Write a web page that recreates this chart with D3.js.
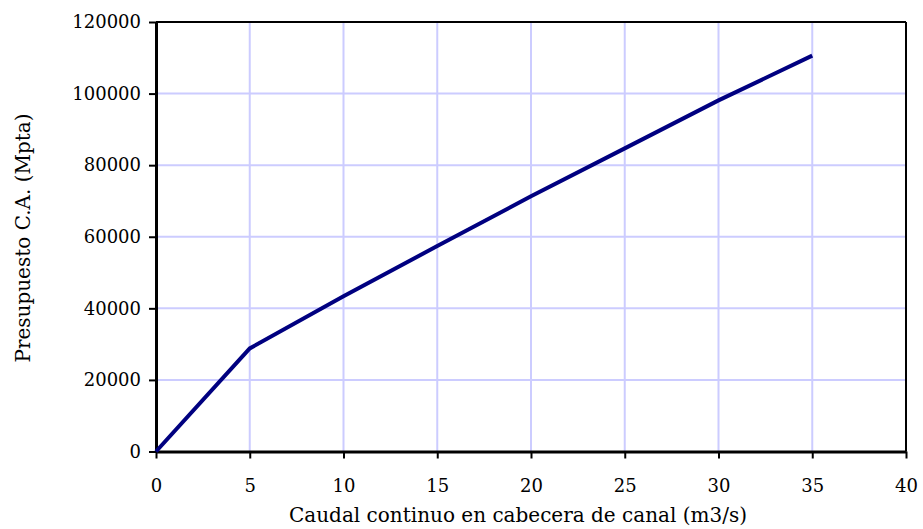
<!DOCTYPE html>
<html><head><meta charset="utf-8">
<script src="https://cdn.jsdelivr.net/npm/d3@7"></script>
<style>body{margin:0;background:#fff}svg{display:block}</style>
</head><body>
<svg id="c" width="923" height="529"></svg>
<script>
const caudal = [0, 5, 10, 15, 20, 25, 30, 35];
const presupuesto = [0, 28800, 43400, 57400, 71300, 84700, 98100, 110600];
const xTicks = [0, 5, 10, 15, 20, 25, 30, 35, 40];
const yTicks = [0, 20000, 40000, 60000, 80000, 100000, 120000];
const xTitle = "Caudal continuo en cabecera de canal (m3/s)";
const yTitle = "Presupuesto C.A. (Mpta)";

const svg = d3.select("#c");
const L = 156, R = 906, T = 22, B = 451.5;
const x = d3.scaleLinear().domain([0, 40]).range([L, R]);
const y = d3.scaleLinear().domain([0, 120000]).range([B, T]);
const font = "DejaVu Serif";

// grid
svg.append("g").selectAll("line").data(xTicks.slice(1, -1)).join("line")
  .attr("x1", d => x(d)).attr("x2", d => x(d)).attr("y1", T).attr("y2", B)
  .attr("stroke", "#ccccff").attr("stroke-width", 2);
svg.append("g").selectAll("line").data(yTicks.slice(1, -1)).join("line")
  .attr("y1", d => y(d)).attr("y2", d => y(d)).attr("x1", L).attr("x2", R)
  .attr("stroke", "#ccccff").attr("stroke-width", 2);

// frame top/right
svg.append("line").attr("x1", L).attr("x2", R).attr("y1", T).attr("y2", T).attr("stroke", "#000").attr("stroke-width", 2);
svg.append("line").attr("x1", R).attr("x2", R).attr("y1", T).attr("y2", B).attr("stroke", "#000").attr("stroke-width", 2);

// axes
const xAxis = svg.append("g").attr("transform", `translate(0,${B})`)
  .call(d3.axisBottom(x).tickValues(xTicks).tickSize(7).tickPadding(21).tickSizeOuter(0));
const yAxis = svg.append("g").attr("transform", `translate(${L},0)`)
  .call(d3.axisLeft(y).tickValues(yTicks).tickSize(7).tickPadding(8).tickFormat(d3.format("d")).tickSizeOuter(0));
[xAxis, yAxis].forEach(g => {
  g.select(".domain").attr("stroke", "#000").attr("stroke-width", 3);
  g.selectAll(".tick line").attr("stroke", "#000").attr("stroke-width", 2);
  g.selectAll("text").attr("font-family", font).attr("font-size", 18).attr("fill", "#000");
});

// line
svg.append("path").datum(caudal.map((c, i) => [c, presupuesto[i]]))
  .attr("d", d3.line().x(d => x(d[0])).y(d => y(d[1])))
  .attr("fill", "none").attr("stroke", "#000080").attr("stroke-width", 4);

// titles
svg.append("text").attr("x", 518).attr("y", 522).attr("text-anchor", "middle")
  .attr("font-family", font).attr("font-size", 20).text(xTitle);
svg.append("text").attr("transform", `translate(30,238) rotate(-90)`).attr("text-anchor", "middle")
  .attr("font-family", font).attr("font-size", 20).text(yTitle);
</script>
</body></html>
